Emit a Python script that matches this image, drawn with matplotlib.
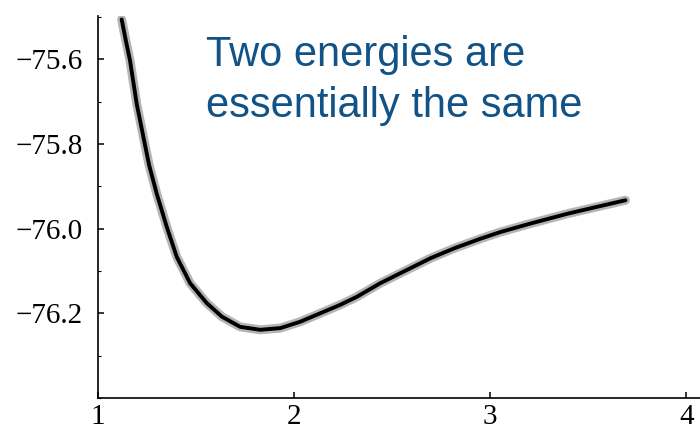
import numpy as np
import matplotlib.pyplot as plt
from matplotlib.ticker import MultipleLocator

# bond length vs. energy
r = [1.122, 1.143, 1.165, 1.199, 1.233, 1.262, 1.301, 1.352, 1.403, 1.471,
     1.556, 1.633, 1.726, 1.828, 1.930, 2.032, 2.134, 2.236, 2.321, 2.44,
     2.57, 2.696, 2.82, 2.95, 3.053, 3.206, 3.393, 3.55, 3.69]
energy = [-75.506, -75.555, -75.604, -75.706, -75.784, -75.850, -75.918,
          -75.996, -76.067, -76.129, -76.176, -76.208, -76.232, -76.239,
          -76.235, -76.220, -76.200, -76.180, -76.161, -76.129, -76.099,
          -76.070, -76.046, -76.024, -76.008, -75.988, -75.965, -75.948,
          -75.933]

xticks = [1, 2, 3, 4]
yticks = [-75.6, -75.8, -76.0, -76.2]
note = 'Two energies are\nessentially the same'

fig = plt.figure(figsize=(7, 4.34), dpi=100)
ax = fig.add_axes([0.1396, 0.083, 0.8604, 0.88])

# fuzzy grey halo under a black core, like the scanned curve
ax.plot(r, energy, color='#a8a8a8', lw=6.5, solid_capstyle='round',
        solid_joinstyle='round', alpha=0.85)
ax.plot(r, energy, color='black', lw=2.8, solid_capstyle='round',
        solid_joinstyle='round')

ax.set_xlim(1, 4.07)
ax.set_ylim(-76.4, -75.498)
ax.set_xticks(xticks)
ax.set_xticklabels([str(t) for t in xticks])
ax.set_yticks(yticks)
ax.set_yticklabels(['\u2212%.1f' % abs(t) for t in yticks])
ax.yaxis.set_minor_locator(MultipleLocator(0.1))

for s in ['top', 'right']:
    ax.spines[s].set_visible(False)
for s in ['left', 'bottom']:
    ax.spines[s].set_linewidth(1.2)

ax.tick_params(which='major', direction='in', length=4, width=1.1,
               labelsize=21, colors='black')
ax.tick_params(which='minor', direction='in', length=2, width=0.8)
ax.tick_params(axis='y', pad=11)
ax.tick_params(axis='x', pad=4)
for lab in ax.get_xticklabels() + ax.get_yticklabels():
    lab.set_family('Liberation Serif')

ax.text(0.179, 0.95, note, transform=ax.transAxes, ha='left', va='top',
        fontsize=30, color='#115387', family='Liberation Sans', linespacing=1.36)

fig.savefig('out.png', dpi=100)
